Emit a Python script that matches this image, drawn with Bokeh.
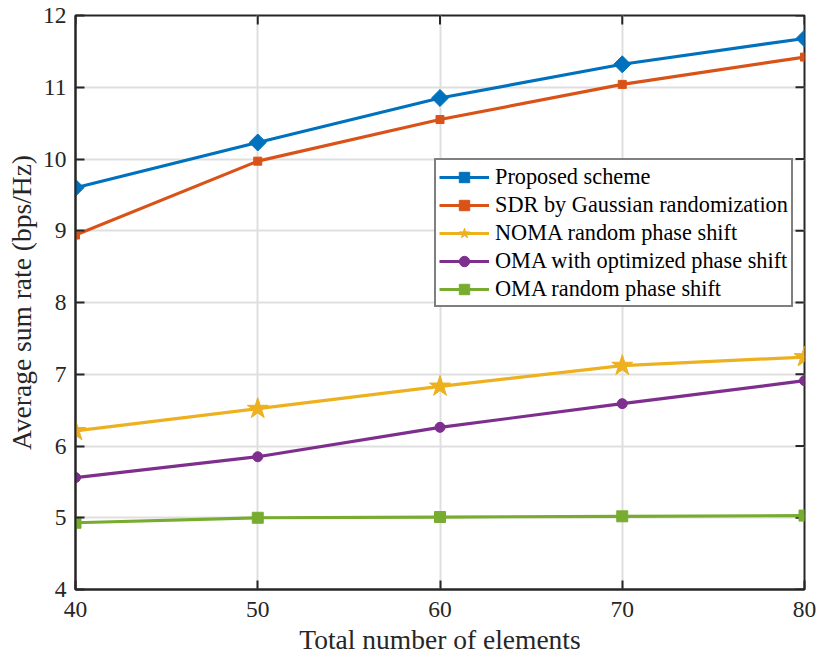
from bokeh.plotting import figure
from bokeh.models import Legend, LegendItem, Range1d, FixedTicker
from bokeh.embed import file_html
from bokeh.resources import INLINE
import numpy as np

# Total number of reflecting elements
elements = [40, 50, 60, 70, 80]

# Average sum rate (bps/Hz) for each scheme
proposed = [9.60, 10.23, 10.85, 11.32, 11.68]
sdr_gauss = [8.94, 9.97, 10.55, 11.04, 11.42]
noma_random = [6.21, 6.52, 6.83, 7.12, 7.24]
oma_optimized = [5.56, 5.85, 6.26, 6.59, 6.91]
oma_random = [4.93, 5.00, 5.01, 5.02, 5.03]

series_names = [
    "Proposed scheme",
    "SDR by Gaussian randomization",
    "NOMA random phase shift",
    "OMA with optimized phase shift",
    "OMA random phase shift",
]

x_ticks = [40, 50, 60, 70, 80]
y_ticks = [4, 5, 6, 7, 8, 9, 10, 11, 12]

FONT = "Liberation Serif"
AXIS_COLOR = "#262626"
X_MIN, X_MAX, Y_MIN, Y_MAX = 40, 80, 4, 12
FRAME_W, FRAME_H = 729, 574
TICK_PX = 9

p = figure(
    width=817, height=661,
    x_range=Range1d(X_MIN, X_MAX), y_range=Range1d(Y_MIN, Y_MAX),
    output_backend="svg", toolbar_location=None,
    min_border_left=75, min_border_right=13,
    min_border_top=15, min_border_bottom=72,
)
p.background_fill_color = "white"
p.border_fill_color = "white"
p.outline_line_color = AXIS_COLOR
p.outline_line_width = 2

# Bottom and left axes
for ax in (p.xaxis[0], p.yaxis[0]):
    ax.major_tick_in = TICK_PX
    ax.major_tick_out = 0
    ax.minor_tick_in = 0
    ax.minor_tick_out = 0
    ax.axis_line_color = AXIS_COLOR
    ax.axis_line_width = 2
    ax.major_tick_line_color = AXIS_COLOR
    ax.major_tick_line_width = 2
    ax.major_label_text_font = FONT
    ax.major_label_text_font_size = "23.5px"
    ax.major_label_text_color = AXIS_COLOR
    ax.axis_label_text_font = FONT
    ax.axis_label_text_font_size = "27.5px"
    ax.axis_label_text_font_style = "normal"
    ax.axis_label_text_color = AXIS_COLOR

p.xaxis[0].ticker = FixedTicker(ticks=x_ticks)
p.yaxis[0].ticker = FixedTicker(ticks=y_ticks)
p.xaxis[0].axis_label = "Total number of elements"
p.yaxis[0].axis_label = "Average sum rate (bps/Hz)"
p.xaxis[0].major_label_standoff = 12
p.yaxis[0].major_label_standoff = 9
p.xaxis[0].axis_label_standoff = 4
p.yaxis[0].axis_label_standoff = 3

# Inward tick marks on the top and right edges of the box
dx = TICK_PX * (X_MAX - X_MIN) / FRAME_W
dy = TICK_PX * (Y_MAX - Y_MIN) / FRAME_H
p.segment(x0=x_ticks, y0=[Y_MAX] * len(x_ticks), x1=x_ticks,
          y1=[Y_MAX - dy] * len(x_ticks), line_color=AXIS_COLOR, line_width=2)
p.segment(x0=[X_MAX] * len(y_ticks), y0=y_ticks, x1=[X_MAX - dx] * len(y_ticks),
          y1=y_ticks, line_color=AXIS_COLOR, line_width=2)

p.xgrid.ticker = FixedTicker(ticks=x_ticks)
p.ygrid.ticker = FixedTicker(ticks=y_ticks)
for g in (p.xgrid[0], p.ygrid[0]):
    g.grid_line_color = "#dfdfdf"
    g.grid_line_width = 2

colors = ["#0072BD", "#D95319", "#EDB120", "#7E2F8E", "#77AC30"]
data = [proposed, sdr_gauss, noma_random, oma_optimized, oma_random]
markers = ["square", "square", "star", "circle", "square"]
sizes = [12, 8, 22, 10, 11]
angles = [np.pi / 4, 0, 0, 0, 0]

items = []
for name, ys, c, m, s, a in zip(series_names, data, colors, markers, sizes, angles):
    ln = p.line(elements, ys, line_color=c, line_width=3.2)
    sc = p.scatter(elements, ys, marker=m, size=s, angle=a,
                   fill_color=c, line_color=c, line_width=1)
    items.append(LegendItem(label=name, renderers=[ln, sc]))

legend = Legend(items=items, location=(359, 282))
legend.label_text_font = FONT
legend.label_text_font_size = "22.3px"
legend.label_text_color = "black"
legend.glyph_width = 50
legend.glyph_height = 26
legend.label_height = 27
legend.label_standoff = 6
legend.spacing = 1
legend.padding = 3
legend.margin = 0
legend.border_line_color = "black"
legend.border_line_width = 2
legend.background_fill_color = "white"
legend.background_fill_alpha = 1
p.add_layout(legend, "center")

open("out.html", "w").write(file_html(p, INLINE))
